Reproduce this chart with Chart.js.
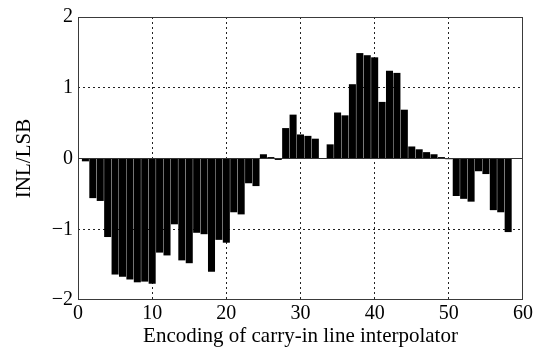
<!DOCTYPE html>
<html>
<head>
<meta charset="utf-8">
<script src="https://cdn.jsdelivr.net/npm/chart.js@4.4.1/dist/chart.umd.min.js"></script>
<style>
  html, body { margin: 0; padding: 0; background: #fff; }
  #wrap { width: 548px; height: 355px; }
</style>
</head>
<body>
<div id="wrap"><canvas id="c" width="548" height="355"></canvas></div>
<script>
// Data
const codes = [1,2,3,4,5,6,7,8,9,10,11,12,13,14,15,16,17,18,19,20,21,22,23,24,25,26,27,28,29,30,31,32,33,34,35,36,37,38,39,40,41,42,43,44,45,46,47,48,49,50,51,52,53,54,55,56,57,58];
const inl = [-0.04,-0.56,-0.60,-1.11,-1.64,-1.67,-1.71,-1.75,-1.74,-1.77,
             -1.33,-1.37,-0.93,-1.44,-1.48,-1.05,-1.07,-1.60,-1.15,-1.19,
             -0.76,-0.79,-0.35,-0.39,0.06,0.02,-0.02,0.43,0.62,0.34,
             0.32,0.28,0.005,0.20,0.65,0.61,1.05,1.49,1.46,1.43,
             0.80,1.24,1.21,0.69,0.17,0.13,0.09,0.06,0.02,-0.01,
             -0.53,-0.57,-0.61,-0.18,-0.22,-0.73,-0.76,-1.04];
const xTicks = [0,10,20,30,40,50,60];
const yTicks = [-2,-1,0,1,2];
const xTitle = 'Encoding of carry-in line interpolator';
const yTitle = 'INL/LSB';

const FONT = '"Liberation Serif", "Times New Roman", serif';

const frame = {
  id: 'frame',
  afterDatasetsDraw(chart) {
    const a = chart.chartArea, c = chart.ctx;
    c.save();
    c.strokeStyle = '#3a3a3a';
    c.lineWidth = 1;
    c.strokeRect(Math.round(a.left) + 0.5, Math.round(a.top) + 0.5,
                 Math.round(a.right - a.left) - 1, Math.round(a.bottom - a.top) - 1);
    c.restore();
  }
};

new Chart(document.getElementById('c'), {
  type: 'bar',
  data: {
    datasets: [{
      data: codes.map((x, i) => ({ x: x, y: inl[i] })),
      backgroundColor: '#000',
      borderWidth: 0,
      barPercentage: 0.95,
      categoryPercentage: 1.0
    }]
  },
  options: {
    responsive: false,
    animation: false,
    layout: { padding: { top: 15, right: 25, left: 0, bottom: 0 } },
    plugins: { legend: { display: false }, tooltip: { enabled: false } },
    scales: {
      x: {
        type: 'linear',
        offset: false,
        min: 0, max: 60,
        afterBuildTicks: s => { s.ticks = xTicks.map(v => ({ value: v })); },
        afterFit: s => { s.height = 55; },
        ticks: {
          font: { family: FONT, size: 20 },
          color: '#000',
          padding: 2,
          maxRotation: 0
        },
        grid: {
          offset: false,
          drawTicks: false,
          color: ctx => (ctx.tick && (ctx.tick.value === 0 || ctx.tick.value === 60)) ? 'rgba(0,0,0,0)' : '#222',
          lineWidth: 1
        },
        border: { display: false, dash: [2, 3] },
        title: {
          display: true,
          text: xTitle,
          font: { family: FONT, size: 21 },
          color: '#000',
          padding: { top: 0, bottom: 6 }
        }
      },
      y: {
        min: -2, max: 2,
        afterBuildTicks: s => { s.ticks = yTicks.map(v => ({ value: v })); },
        afterFit: s => { s.width = 78; },
        ticks: {
          font: { family: FONT, size: 20 },
          color: '#000',
          padding: 5,
          callback: v => String(v).replace('-', '\u2212')
        },
        grid: {
          drawTicks: false,
          color: ctx => {
            if (!ctx.tick) return '#222';
            if (ctx.tick.value === 2 || ctx.tick.value === -2) return 'rgba(0,0,0,0)';
            if (ctx.tick.value === 0) return '#333';
            return '#222';
          },
          lineWidth: 1
        },
        border: {
          display: false,
          dash: ctx => (ctx.tick && ctx.tick.value === 0) ? [] : [2, 3]
        },
        title: {
          display: true,
          text: yTitle,
          font: { family: FONT, size: 21 },
          color: '#000',
          padding: { top: 12, bottom: 0 }
        }
      }
    }
  },
  plugins: [frame]
});
</script>
</body>
</html>
